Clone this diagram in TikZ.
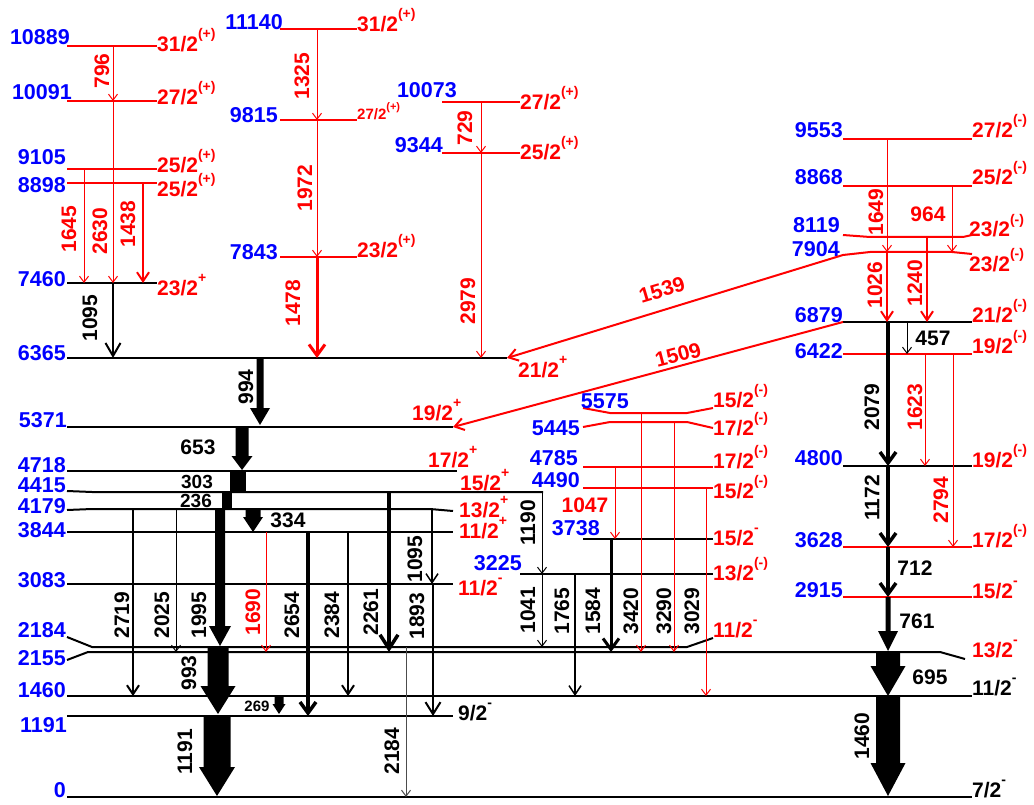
\documentclass[tikz,border=0pt]{standalone}
\usepackage{fontspec}
\setmainfont{Liberation Sans}
\usetikzlibrary{arrows.meta}

% spin with raised parity
\newcommand\jp[2]{#1\raisebox{13pt}{\fontsize{14}{14}\selectfont #2}}

\begin{document}
\begin{tikzpicture}[
    x=1pt, y=-1pt,
    level/.style={line width=2pt, line join=round},
    rlevel/.style={level, red},
    weak/.style={line width=1pt, -{Straight Barb[length=6pt,width=9pt]}},
    medium/.style={line width=2pt, -{Straight Barb[length=9pt,width=12pt]}},
    strong/.style={line width=3.5pt, -{Straight Barb[length=11pt,width=16pt]}},
    elabel/.style={blue, font=\fontsize{21.5}{22}\selectfont\bfseries, inner sep=0pt, anchor=base east},
    jlabel/.style={red, font=\fontsize{21}{22}\selectfont\bfseries, inner sep=0pt, anchor=base west},
    glabel/.style={font=\fontsize{21}{22}\selectfont\bfseries, inner sep=0pt}
]

\fill[white] (0,0) rectangle (1034,805);
\useasboundingbox (0,0) rectangle (1034,805);

% Levels
\foreach \n/\y/\a/\b in {0/797/67/972, 1191/716/67/453, 1460/696/67/972, 3083/584/67/453,
    3844/532/67/453, 4718/471/67/457, 5371/427/67/453, 6365/358/67/507, 7460/283/67/157,
    6879/322/843/972, 4800/466/843/972, 3738/539/583/713, 3225/574/520/713}
    \draw[level] (\a,\y) coordinate (L\n) -- (\b,\y) coordinate (R\n);

\foreach \n/\y/\a/\b in {10889/46/67/157, 10091/101/67/157, 9105/169/67/157, 8898/183/67/157,
    11140/29/280/357, 9815/120/280/357, 7843/257/280/357, 10073/102/442/520, 9344/153/442/520,
    9553/139/843/972, 8868/186/843/972, 6422/354/843/972, 3628/547/843/972, 2915/597/843/972,
    4785/467/583/713, 4490/488/583/713}
    \draw[rlevel] (\a,\y) coordinate (L\n) -- (\b,\y) coordinate (R\n);

% Levels with bent ends
\draw[level] (67,491) -- (92,492) coordinate (L4415) -- (543,492);
\draw[level] (67,510) -- (92,509) coordinate (L4179) -- (430,509) -- (453,511);
\draw[level] (67,637) -- (92,647) coordinate (L2184) -- (687,647) -- (713,638);
\draw[level] (67,660) -- (88,652) coordinate (L2155) -- (940,652) -- (965,659);
\draw[rlevel] (843,235) -- (870,237) coordinate (L8119) -- (963,237) -- (972,235);
\draw[rlevel] (843,255) coordinate (W7904) -- (870,252) coordinate (L7904) -- (952,252) -- (972,254);
\draw[rlevel] (583,408) -- (610,413) coordinate (L5575) -- (687,413) -- (713,408);
\draw[rlevel] (583,427) -- (610,422) coordinate (L5445) -- (687,422) -- (713,428);

% Energies
\foreach \e/\x/\y in {10889/70/45, 10091/72/100, 9105/66/165, 8898/66/193, 7460/66/287,
    6365/66/360, 5371/67/427, 4718/66/472, 4415/66/492, 4179/66/513, 3844/66/537,
    3083/66/587, 2184/66/637, 2155/66/665, 1460/66/697, 1191/67/732, 0/66/797,
    11140/283/30, 9815/278/123, 7843/278/260, 10073/457/98, 9344/443/153,
    9553/843/138, 8868/843/185, 8119/840/233, 7904/840/257, 6879/843/322, 6422/843/358,
    4800/843/465, 3628/843/547, 2915/843/597, 5575/629/408, 5445/580/435, 4785/578/465,
    4490/580/487, 3738/600/535, 3225/522/570}
    \node[elabel] (e\e) at (\x,\y) {\e};

% Spins
\foreach \x/\y/\s/\p in {157/52/31/(+), 157/105/27/(+), 157/173/25/(+), 157/197/25/(+),
    157/295/23/+, 357/32/31/(+), 357/258/23/(+), 520/110/27/(+), 520/160/25/(+),
    518/377/21/+, 412/420/19/+, 428/467/17/+, 460/490/15/+, 459/517/13/+, 459/538/11/+,
    458/595/11/-, 713/407/15/(-), 713/435/17/(-), 713/468/17/(-), 713/498/15/(-),
    713/545/15/-, 713/580/13/(-), 713/637/11/-, 972/138/27/(-), 972/185/25/(-),
    969/237/23/(-), 969/272/23/(-), 972/322/21/(-), 972/353/19/(-), 972/467/19/(-),
    972/547/17/(-), 972/598/15/-, 972/657/13/-}
    \node[jlabel] (j\x-\y) at (\x,\y) {\jp{\s/2}{\p}};
\foreach \x/\y/\s in {458/720/9, 972/695/11, 972/797/7}
    \node[jlabel, black] (j\x-\y) at (\x,\y) {\jp{\s/2}{-}};
\node[jlabel, font=\fontsize{15}{15}\selectfont\bfseries] (j9815) at (357,120)
    {27/2\raisebox{9pt}{\fontsize{11}{11}\selectfont(+)}};

% Transitions, upper left
\draw[weak, red] (113,0 |- L10889) -- (113,0 |- L10091);
\draw[weak, red] (84,0 |- L9105) -- (84,0 |- L7460);
\draw[weak, red] (113,0 |- L10091) -- (113,0 |- L7460);
\draw[medium, red] (143,0 |- L8898) -- (143,0 |- L7460);
\draw[medium, -{Straight Barb[length=13pt,width=15pt]}] (113,0 |- L7460) -- (113,0 |- L6365);
\draw[weak, red] (317,0 |- L11140) -- (317,0 |- L9815);
\draw[weak, red] (317,0 |- L9815) -- (317,0 |- L7843);
\draw[strong, red, line width=3pt] (317,0 |- L7843) -- (317,0 |- L6365);
\draw[weak, red] (481,0 |- L10073) -- (481,0 |- L9344);
\draw[weak, red] (481,0 |- L9344) -- (481,0 |- L6365);

% Cross-over
\draw[medium, red] (W7904) -- (R6365);
\draw[medium, red] (L6879) -- (R5371);

% Right band
\draw[weak, red] (887,0 |- L9553) -- (887,0 |- L7904);
\draw[weak, red] (952,0 |- L8868) -- (952,0 |- L7904);
\draw[medium, red] (887,0 |- L7904) -- (887,0 |- L6879);
\draw[medium, red] (927,0 |- L8119) -- (927,0 |- L6879);
\draw[weak] (907,0 |- L6879) -- (907,0 |- L6422);
\draw[strong] (888,0 |- L6879) -- (888,0 |- L4800);
\draw[weak, red] (925,0 |- L6422) -- (925,0 |- L4800);
\draw[weak, red] (953,0 |- L6422) -- (953,0 |- L3628);
\draw[strong] (888,0 |- L4800) -- (888,0 |- L3628);
\draw[strong] (888,0 |- L3628) -- (888,0 |- L2915);

% Middle band
\draw[weak] (542,0 |- L4415) -- (542,0 |- L3225);
\draw[weak] (542,0 |- L3225) -- (542,0 |- L2184);
\draw[medium, line width=1.5pt] (575,0 |- L3225) -- (575,0 |- L1460);
\draw[strong, line width=3pt] (611,0 |- L3738) -- (611,0 |- L2155);
\draw[weak, red] (641,0 |- L5575) -- (641,0 |- L2155);
\draw[weak, red] (674,0 |- L5445) -- (674,0 |- L2155);
\draw[weak, red] (706,0 |- L4490) -- (706,0 |- L1460);
\draw[weak, red] (615,0 |- L4785) -- (615,0 |- L3738);

% Main band
\draw[medium] (133,0 |- L4179) -- (133,0 |- L1460);
\draw[weak] (176,0 |- L4179) -- (176,0 |- L2155);
\draw[weak, red] (266,0 |- L3844) -- (266,0 |- L2155);
\draw[strong] (308,0 |- L3844) -- (308,0 |- L1191);
\draw[medium] (348,0 |- L3844) -- (348,0 |- L1460);
\draw[strong, -{Straight Barb[length=14pt,width=18pt]}] (389,0 |- L4415) -- (389,0 |- L2155);
\draw[medium, line width=1.5pt] (432,0 |- L4179) -- (432,0 |- L3083);
\draw[medium, -{Straight Barb[length=12pt,width=15pt]}] (433,0 |- L3083) -- (433,0 |- L1191);
\draw[weak, black!70] (406,0 |- L2184) -- (406,0 |- L0);

% Intense transitions
\foreach \x/\a/\b/\s/\w/\h in {260/358/425/7/20/17, 242/427/470/13/21/14, 220/509/646/10/22/20,
    218/647/714/21/35/28, 217/716/796/27/36/29, 253/509/532/15/20/15, 279/697/714/9/13/10,
    888/597/651/5/20/20, 888/652/696/24/35/30, 888/696/796/24/35/33}
    \fill (\x-\s/2,\a) -- (\x+\s/2,\a) -- (\x+\s/2,\b-\h) -- (\x+\w/2,\b-\h) -- (\x,\b)
        -- (\x-\w/2,\b-\h) -- (\x-\s/2,\b-\h) -- cycle;
\fill (230,471) rectangle (246,492);
\fill (222,492) rectangle (232,509);

% Gamma energies
\foreach \t/\x/\y in {1095/90/318, 994/246/387, 2719/122/615, 2025/162/615, 1995/199/615,
    993/189/673, 1191/185/752, 2654/292/615, 2384/332/615, 2261/371/612, 1893/417/616,
    2184/392/751, 1190/528/523, 1041/528/610, 1765/562/611, 1584/593/611, 3420/631/611,
    3290/664/611, 3029/692/611, 2079/872/407, 1172/872/498, 1460/862/736}
    \node[glabel, rotate=90] (g\t) at (\x,\y) {\t};
\node[glabel, rotate=90] (g1095b) at (415,559) {1095};
\foreach \t/\x/\y in {796/102/71, 1645/69/229, 2630/100/231, 1438/128/224, 1325/302/76,
    1972/305/188, 1478/293/303, 729/465/128, 2979/468/301, 1690/253/612, 1649/876/212,
    1026/875/285, 1240/915/283, 1623/915/407, 2794/941/500}
    \node[glabel, rotate=90, red] (g\t) at (\x,\y) {\t};
\foreach \t/\x/\y in {653/198/447, 334/288/520, 457/933/338, 712/915/568, 761/917/621, 695/930/677}
    \node[glabel] (g\t) at (\x,\y) {\t};
\node[glabel, font=\fontsize{19}{19}\selectfont\bfseries] (g303) at (197,482) {303};
\node[glabel, font=\fontsize{19}{19}\selectfont\bfseries] (g236) at (196,501) {236};
\node[glabel, font=\fontsize{15}{15}\selectfont\bfseries] (g269) at (257,706) {269};
\node[glabel, red] (g964) at (928,214) {964};
\node[glabel, red] (g1047) at (585,505) {1047};
\node[glabel, red, rotate=16.6] (g1539) at (662,290) {1539};
\node[glabel, red, rotate=14.8] (g1509) at (678,355) {1509};

\end{tikzpicture}
\end{document}
